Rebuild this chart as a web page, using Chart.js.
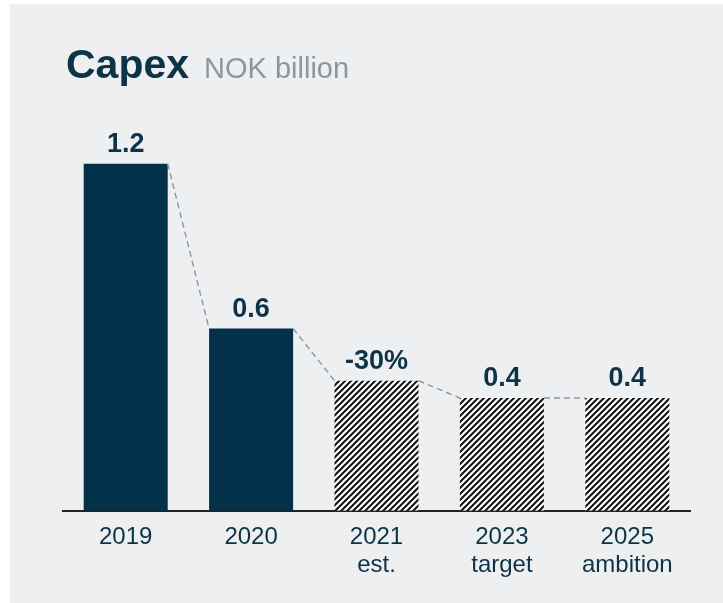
<!DOCTYPE html>
<html>
<head>
<meta charset="utf-8">
<script src="https://cdn.jsdelivr.net/npm/chart.js@4/dist/chart.umd.min.js"></script>
<style>
  html,body{margin:0;padding:0;background:#fff;}
  #wrap{width:723px;height:603px;position:relative;}
</style>
</head>
<body>
<div id="wrap"><canvas id="ch-capex" width="723" height="603"></canvas></div>
<script>
const categories=[['2019'],['2020'],['2021','est.'],['2023','target'],['2025','ambition']];
const capex=[1.2,0.63,0.45,0.39,0.39];
const valueLabels=['1.2','0.6','-30%','0.4','0.4'];
const hatched=[false,false,true,true,true];

const C={bg:'#eeeff1',navy:'#03314a',text:'#0d3346',grey:'#8a97a1',axis:'#222'};
const FONT="'Liberation Sans', Arial, sans-serif";

function mkHatch(){
  const s=6, c=document.createElement('canvas');
  c.width=s; c.height=s;
  const g=c.getContext('2d');
  g.fillStyle='#fff'; g.fillRect(0,0,s,s);
  g.strokeStyle='#111'; g.lineWidth=2;
  g.beginPath();
  g.moveTo(-1,s+1); g.lineTo(s+1,-1);
  g.moveTo(-1,1); g.lineTo(1,-1);
  g.moveTo(s-1,s+1); g.lineTo(s+1,s-1);
  g.stroke();
  return g.createPattern(c,'repeat');
}
const hatch=mkHatch();

const decor={
  id:'decor',
  beforeDraw(chart){
    const ctx=chart.ctx;
    ctx.save();
    ctx.fillStyle='#fff'; ctx.fillRect(0,0,chart.width,chart.height);
    ctx.fillStyle=C.bg; ctx.fillRect(10,4,chart.width-10,chart.height-4);
    ctx.restore();
  },
  afterDatasetsDraw(chart){
    const ctx=chart.ctx, bars=chart.getDatasetMeta(0).data;
    ctx.save();
    // dashed connectors
    ctx.strokeStyle=C.grey; ctx.lineWidth=1.4; ctx.setLineDash([6,4]);
    for(let i=0;i<bars.length-1;i++){
      const a=bars[i], b=bars[i+1];
      ctx.beginPath();
      ctx.moveTo(a.x+a.width/2,a.y);
      ctx.lineTo(b.x-b.width/2,b.y);
      ctx.stroke();
    }
    ctx.setLineDash([]);
    // value labels
    ctx.fillStyle=C.text; ctx.textAlign='center'; ctx.textBaseline='alphabetic';
    ctx.font="bold 27px "+FONT;
    bars.forEach((b,i)=>ctx.fillText(valueLabels[i],b.x,b.y-12));
    // title
    ctx.textAlign='left';
    ctx.font="bold 41px "+FONT;
    ctx.fillStyle=C.text;
    ctx.fillText('Capex',66,78);
    const w=ctx.measureText('Capex').width;
    ctx.font="29px "+FONT;
    ctx.fillStyle=C.grey;
    ctx.fillText('NOK billion',66+w+15,78);
    ctx.restore();
  }
};

new Chart(document.getElementById('ch-capex'),{
  type:'bar',
  data:{labels:categories,datasets:[{
    data:capex,
    backgroundColor:hatched.map(h=>h?hatch:C.navy),
    borderWidth:0,
    barPercentage:0.67,categoryPercentage:1
  }]},
  options:{
    responsive:false,animation:false,devicePixelRatio:1,
    layout:{padding:{left:63,right:33,top:48,bottom:20}},
    plugins:{legend:{display:false},tooltip:{enabled:false}},
    scales:{
      x:{grid:{display:false},border:{display:true,color:C.axis,width:2},
         ticks:{color:C.text,padding:4,font:{family:FONT,size:24,lineHeight:1.17}}},
      y:{display:false,min:0,max:1.6}
    }
  },
  plugins:[decor]
});
</script>
</body>
</html>
